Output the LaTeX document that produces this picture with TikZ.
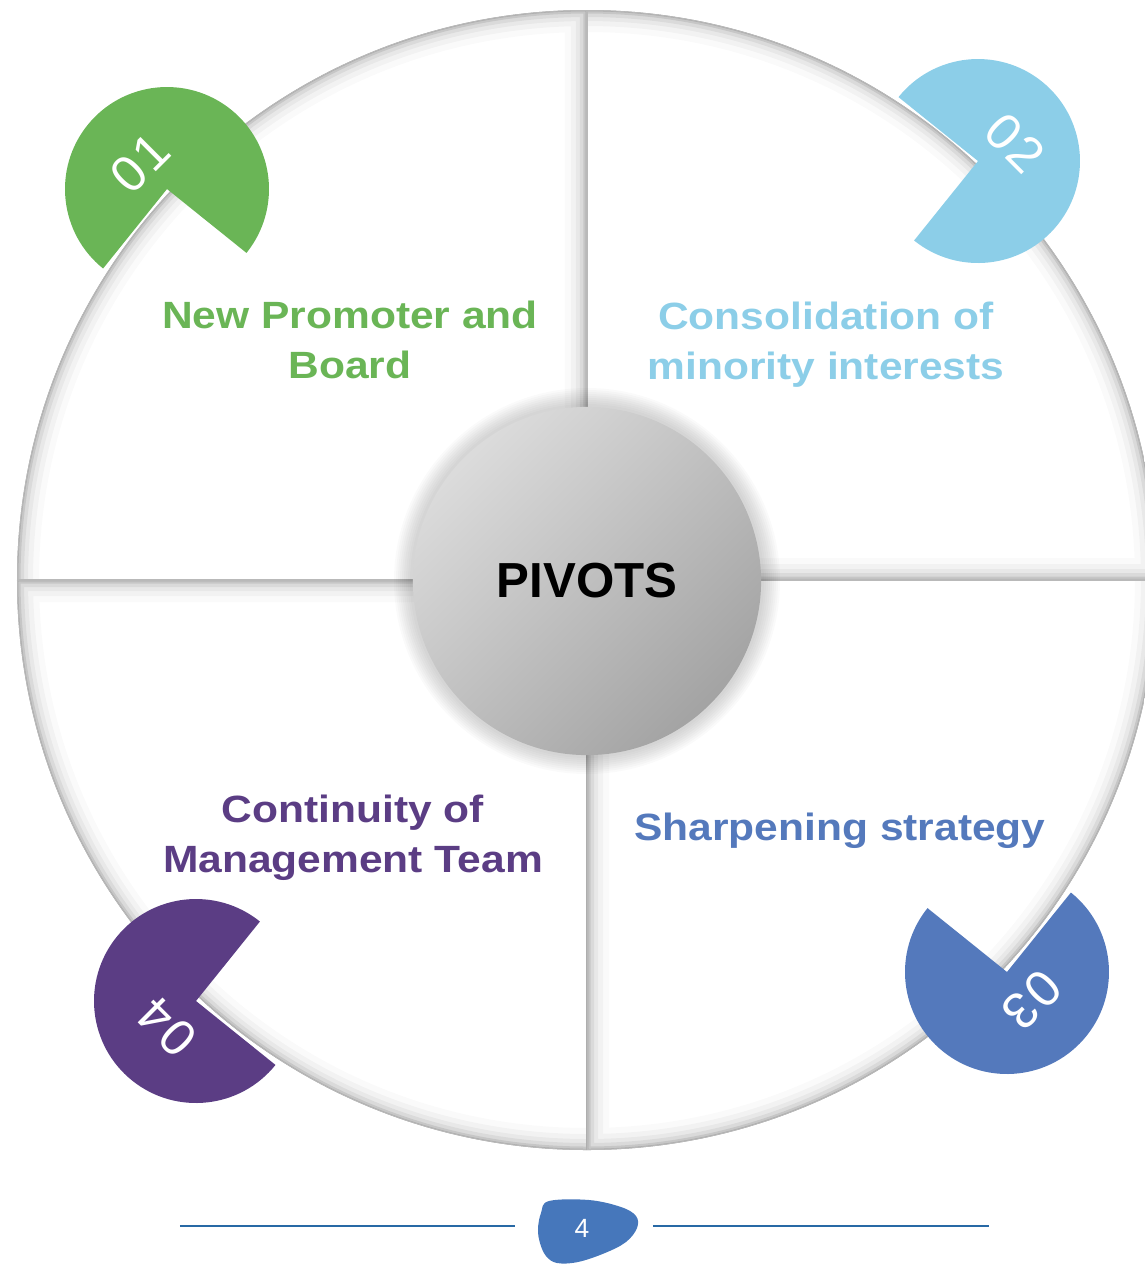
\documentclass[tikz,border=0pt]{standalone}
\usepackage{fontspec}
\setmainfont{Liberation Sans}
\newfontfamily\labelfont[FakeStretch=1.12]{Liberation Sans}
\definecolor{pivgreen}{RGB}{106,181,86}
\definecolor{pivsky}{RGB}{140,206,232}
\definecolor{pivblue}{RGB}{84,121,188}
\definecolor{pivpurple}{RGB}{91,61,132}
\definecolor{pagebar}{RGB}{40,105,165}
\definecolor{pageblob}{RGB}{70,119,187}
\tikzset{
	quadlabel/.style={align=center, inner sep=0pt, font=\labelfont\bfseries\fontsize{10.8}{14.2}\selectfont},
	badgenum/.style={text=white, inner sep=0pt, font=\fontsize{14.5}{16}\selectfont},
}

\begin{document}
\begin{tikzpicture}[x=0.01cm, y=0.01cm]
				\useasboundingbox (0,0) rectangle (1145,-1265);
				\clip (0,0) rectangle (1145,-1265);
				\coordinate (C) at (587,-580);
				\foreach \a in {0,90,180,270}{
					\begin{scope}
						\clip (C) -- ++(\a:570) arc[start angle=\a, end angle=\a+90, radius=570] -- cycle;
						\foreach \w/\o in {4.4mm/0.02, 3.2mm/0.03, 2.2mm/0.045, 1.4mm/0.06, 0.7mm/0.09, 0.25mm/0.15}
							\draw[line width=\w, black, opacity=\o] (C) -- ++(\a:570) arc[start angle=\a, end angle=\a+90, radius=570];
						\draw[gray!55, line width=0.5pt] (C) -- ++(\a:570) arc[start angle=\a, end angle=\a+90, radius=570] -- cycle;
					\end{scope}
				}
				\fill[pivgreen] (167,-189) -- ++(-38.8:102) arc[start angle=-38.8, end angle=231.2, radius=102] -- cycle;
				\node[badgenum, rotate=45] (num01) at (140,-163) {0\kern1pt 1};
				\fill[pivsky] (978,-161) -- ++(231.2:102) arc[start angle=231.2, end angle=501.2, radius=102] -- cycle;
				\node[badgenum, rotate=-45] (num02) at (1015,-143) {0\kern1pt 2};
				\fill[pivblue] (1007,-972) -- ++(141.2:102) arc[start angle=141.2, end angle=411.2, radius=102] -- cycle;
				\node[badgenum, rotate=-135] (num03) at (1032,-1000) {0\kern1pt 3};
				\fill[pivpurple] (196,-1001) -- ++(51.2:102) arc[start angle=51.2, end angle=321.2, radius=102] -- cycle;
				\node[badgenum, rotate=135] (num04) at (167,-1027) {0\kern1pt 4};
				\foreach \r in {177,179,...,193}
					\fill[black, opacity=0.018] (587,-581) circle[radius=\r];
				\node[circle, minimum size=3.48cm, inner sep=0pt, top color=gray!28, bottom color=gray!72, shading angle=45, font=\bfseries\fontsize{14}{16}\selectfont] (pivot) at (587,-581) {PIVOTS};
				\node[quadlabel, text=pivgreen] (promoter) at (350,-340) {New Promoter and\\Board};
				\node[quadlabel, text=pivsky] (minority) at (826,-345) {Consolidation of\\minority interests};
				\node[quadlabel, text=pivblue] (strategy) at (840,-831) {Sharpening strategy};
				\node[quadlabel, text=pivpurple] (continuity) at (353,-838) {Continuity of\\Management Team};
				\draw[pagebar, line width=0.6pt] (180,-1226) -- (515,-1226);
				\draw[pagebar, line width=0.6pt] (653,-1226) -- (989,-1226);
				\fill[pageblob] plot[smooth cycle, tension=0.6] coordinates {(549,-1201) (589,-1200) (621,-1207) (636,-1216) (637,-1228) (626,-1242) (605,-1253) (578,-1262) (557,-1263) (546,-1256) (540,-1243) (538,-1229) (541,-1213)};
				\node[text=white, inner sep=0pt, font=\fontsize{7.5}{9}\selectfont] (pagenum) at (582,-1228) {4};
			\end{tikzpicture}
\end{document}
